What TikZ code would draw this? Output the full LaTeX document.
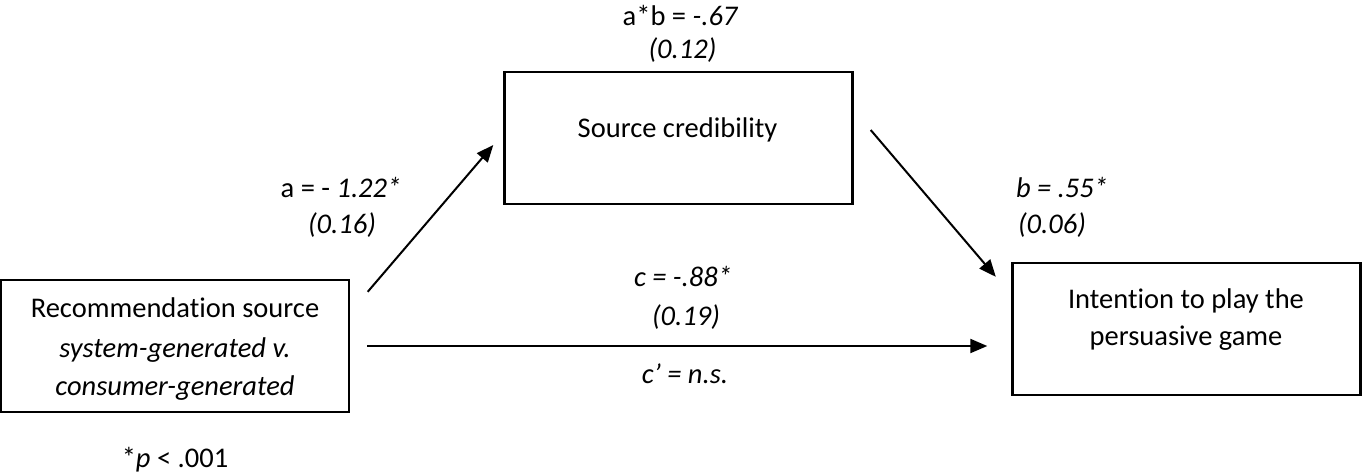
\documentclass[tikz,border=0pt]{standalone}
\usepackage{fontspec}
\setmainfont{Carlito}[Ligatures={NoCommon}]
\usetikzlibrary{arrows.meta,calc}
\begin{document}
\begin{tikzpicture}[x=1pt,y=-1pt,
  box/.style={draw,line width=2.4pt,minimum width=348pt,minimum height=132pt,inner sep=0pt},
  txt/.style={anchor=base,inner sep=0pt,font=\fontsize{28.5}{36}\selectfont},
  link/.style={line width=2pt,-{Triangle[length=17pt,width=14pt]}}]
\useasboundingbox (0,0) rectangle (1362,472);

% variable boxes
\node[box] (rec) at (175,346) {};
\node[box] (src) at (678.5,138) {};
\node[box] (int) at (1186.5,329) {};

% box texts
\node[txt] (rec1) at (175,317) {Recommendation source};
\node[txt] (rec2) at (175,357) {\itshape system-generated v.};
\node[txt] (rec3) at (175,395) {\itshape consumer-generated};
\node[txt] (src1) at (677.5,137) {Source credibility};
\node[txt] (int1) at (1186,308) {Intention to play the};
\node[txt] (int2) at (1186,345) {persuasive game};

% path coefficients
\node[txt] (ab1) at (680.5,25) {a*b = \textit{-.67}};
\node[txt] (ab2) at (682.5,58) {\textit{(0.12)}};
\node[txt] (a1) at (341,197) {a = - \textit{1.22*}};
\node[txt] (a2) at (342,233) {\textit{(0.16)}};
\node[txt] (b1) at (1062,197) {\textit{b = .55*}};
\node[txt] (b2) at (1052,233) {\textit{(0.06)}};
\node[txt] (c1) at (683,286) {\textit{c = -.88*}};
\node[txt] (c2) at (686,325) {\textit{(0.19)}};
\node[txt] (c3) at (685,383) {\textit{c’ = n.s.}};
\node[txt] (note) at (175,467) {*\textit{p} < .001};

% connectors
\draw[link] ($(rec.north east)+(17.5,13)$) -- ($(src.west)+(-10,7)$);
\draw[link] ($(src.east)+(17,-8)$) -- ($(int.north west)+(-15.5,15)$);
\draw[link] ($(rec.east)+(17,0)$) -- ($(rec.east -| int.west)+(-24,0)$);
\end{tikzpicture}
\end{document}
